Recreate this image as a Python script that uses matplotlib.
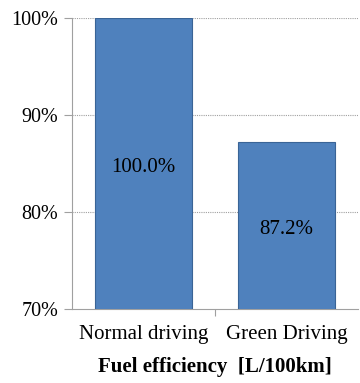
import matplotlib
matplotlib.use("Agg")
import matplotlib.pyplot as plt

categories = ["Normal driving", "Green Driving"]
values = [100.0, 87.2]
y_ticks = [70, 80, 90, 100]

plt.rcParams["font.family"] = ["Liberation Serif", "DejaVu Serif"]

fig = plt.figure(figsize=(3.6, 3.83), dpi=100)
ax = fig.add_axes([0.2, 0.193, 0.794, 0.76])

x = range(len(categories))
bars = ax.bar(x, values, width=0.68, color="#4F81BD", edgecolor="#3A6496",
              linewidth=0.8, zorder=3)

# value label sits in the middle of the visible part of each bar
for bar, v in zip(bars, values):
    mid = (70 + v) / 2
    ax.annotate(f"{v:.1f}%", (bar.get_x() + bar.get_width() / 2, mid),
                xytext=(0, -2.5), textcoords="offset points",
                ha="center", va="center", fontsize=15, zorder=4)

ax.set_ylim(70, 100)
ax.set_xlim(-0.5, 1.5)
ax.set_yticks(y_ticks)
ax.set_yticklabels([f"{t}%" for t in y_ticks], fontsize=14.5)
ax.set_xticks([0.5])
ax.set_xticklabels([""])
ax.tick_params(axis="x", length=5, color="#A0A0A0", direction="out")
ax.tick_params(axis="y", length=6, color="#A0A0A0", direction="out", pad=4)

for i, c in enumerate(categories):
    ax.text(i, 68.4, c, ha="center", va="top", fontsize=15)

ax.set_xlabel("Fuel efficiency  [L/100km]", fontsize=15, fontweight="bold",
              labelpad=26)

for t in y_ticks[1:]:
    ax.axhline(t, color="#A0A0A0", linestyle=(0, (1, 1)), linewidth=0.8, zorder=1)

for s in ["top", "right"]:
    ax.spines[s].set_visible(False)
for s in ["left", "bottom"]:
    ax.spines[s].set_color("#A0A0A0")
    ax.spines[s].set_linewidth(0.8)

fig.savefig("out.png", dpi=100)
